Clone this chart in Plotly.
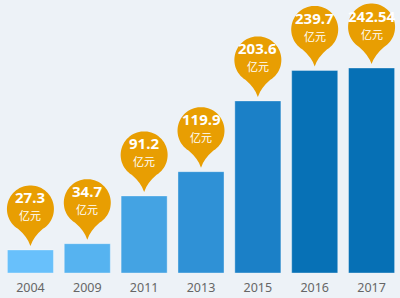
import numpy as np
import plotly.graph_objects as go

years = ["2004", "2009", "2011", "2013", "2015", "2016", "2017"]
values = [27.3, 34.7, 91.2, 119.9, 203.6, 239.7, 242.54]
labels = ["27.3", "34.7", "91.2", "119.9", "203.6", "239.7", "242.54"]
unit = "亿元"
bar_colors = ["#68c0fb", "#56b3f0", "#44a3e3", "#2f91d6", "#1b80c7", "#0771b6", "#0670b5"]
pin_color = "#e89e02"
bg = "#edf2f7"

W, H = 400, 298
ml, mr, mt, mb = 2, 0, 0, 25
ymax = 323

pos = list(range(len(years)))

fig = go.Figure()
fig.add_trace(go.Bar(
    x=pos, y=values,
    marker=dict(color=bar_colors, line=dict(color="rgba(255,255,255,0.35)", width=1)),
    width=0.81,
    hoverinfo="skip",
))

# pin geometry in pixels (y up), relative to bar top
gap, cy, r = 4, 41, 23.5
ang = np.deg2rad(np.linspace(-58, 238, 60))
pts = [(r * np.cos(a), cy + r * np.sin(a)) for a in ang]
path = f"M0,{gap} Q3,{gap+9} {pts[0][0]:.2f},{pts[0][1]:.2f} "
path += " ".join(f"L{px:.2f},{py:.2f}" for px, py in pts[1:])
path += f" Q-3,{gap+9} 0,{gap} Z"

shapes = []
annotations = []
for p, v, lab in zip(pos, values, labels):
    shapes.append(dict(
        type="path", xref="x", yref="y", xsizemode="pixel", ysizemode="pixel",
        xanchor=p, yanchor=v, path=path,
        fillcolor=pin_color, line=dict(width=0), layer="above",
    ))
    annotations.append(dict(
        x=p, y=v, xref="x", yref="y", text=f"<b>{lab}</b>", showarrow=False,
        yshift=cy + 11.5, font=dict(family="Noto Sans", size=15, color="white"),
        xanchor="center", yanchor="middle",
    ))
    annotations.append(dict(
        x=p, y=v, xref="x", yref="y", text=unit, showarrow=False,
        yshift=cy - 6.5, font=dict(family="Noto Sans CJK SC", size=11, color="white"),
        xanchor="center", yanchor="middle",
    ))

fig.update_layout(
    width=W, height=H,
    margin=dict(l=ml, r=mr, t=mt, b=mb),
    paper_bgcolor=bg, plot_bgcolor=bg,
    showlegend=False,
    shapes=shapes, annotations=annotations,
    xaxis=dict(range=[-0.5, len(years) - 0.5], tickmode="array", tickvals=pos, ticktext=years,
               showgrid=False, zeroline=False, showline=False, ticklabelstandoff=5,
               ticks="", tickfont=dict(family="Noto Sans", size=12.5, color="#666666")),
    yaxis=dict(range=[0, ymax], visible=False, showgrid=False, zeroline=False),
)

fig.write_html("out.html")
